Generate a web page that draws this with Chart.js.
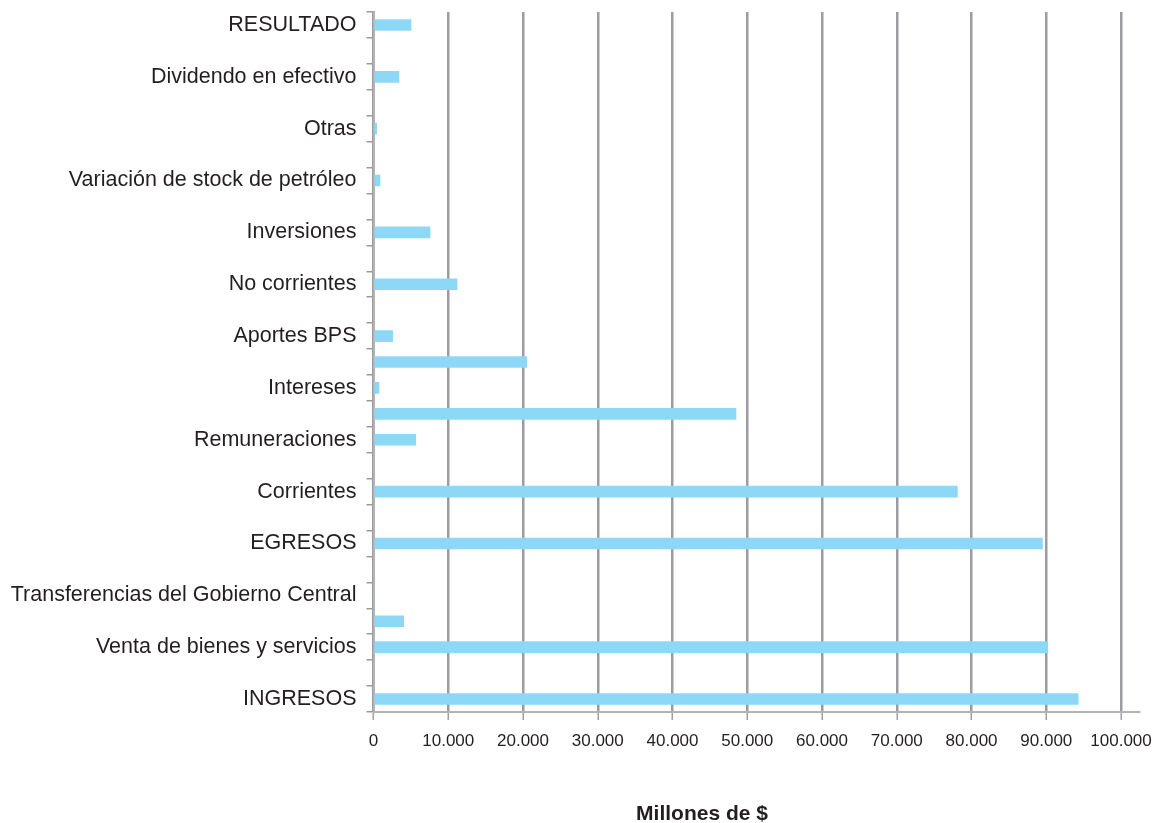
<!DOCTYPE html>
<html>
<head>
<meta charset="utf-8">
<script src="https://cdn.jsdelivr.net/npm/chart.js@4/dist/chart.umd.min.js"></script>
<style>
    html,body{margin:0;padding:0;background:#fff;}
    #wrap{width:1161px;height:823px;position:relative;}
</style>
</head>
<body>
<div id="wrap"><canvas id="flowChart"></canvas></div>
<script>
/* ==========================
   DATA (top to bottom)
========================== */

const categories = [
    "RESULTADO", "",
    "Dividendo en efectivo", "",
    "Otras", "",
    "Variación de stock de petróleo", "",
    "Inversiones", "",
    "No corrientes", "",
    "Aportes BPS", "",
    "Intereses", "",
    "Remuneraciones", "",
    "Corrientes", "",
    "EGRESOS", "",
    "Transferencias del Gobierno Central", "",
    "Venta de bienes y servicios", "",
    "INGRESOS"
];

const amounts = [
    5020, null,
    3410, null,
    430, null,
    870, null,
    7560, null,
    11180, null,
    2570, 20510,
    740, 48490,
    5650, null,
    78110, null,
    89490, null,
    0, 4040,
    90200, null,
    94270
];

const xTicks = [0,10000,20000,30000,40000,50000,60000,70000,80000,90000,100000];

const xTitle = "Millones de $";

/* ==========================
   HELPERS
========================== */

const FONT = "'Liberation Sans', Arial, sans-serif";
const INK = "#231f20";

function formatThousands(v){
    return String(v).replace(/\B(?=(\d{3})+(?!\d))/g, ".");
}

const axisTitlePlugin = {
    id:"axisTitle",
    afterDraw(chart){
        const ctx = chart.ctx;
        ctx.save();
        ctx.font = "bold 21px " + FONT;
        ctx.fillStyle = INK;
        ctx.textAlign = "center";
        ctx.textBaseline = "middle";
        ctx.fillText(xTitle, 702, 814);
        ctx.restore();
    }
};

/* ==========================
   CHART
========================== */

new Chart(document.getElementById("flowChart"),{

    type:"bar",

    data:{
        labels:categories,
        datasets:[{
            data:amounts,
            backgroundColor:"#8dd8f7",
            borderWidth:0,
            barThickness:11
        }]
    },

    options:{
        responsive:true,
        maintainAspectRatio:false,
        animation:false,
        indexAxis:"y",
        layout:{
            padding:{top:12,right:22,left:0,bottom:0}
        },
        plugins:{
            legend:{display:false},
            tooltip:{enabled:false}
        },
        scales:{
            x:{
                min:0,
                max:102400,
                afterBuildTicks(scale){
                    scale.ticks = xTicks.map(v => ({value:v}));
                },
                afterFit(scale){
                    scale.height = 111;
                    scale.paddingLeft = 0;
                    scale.paddingRight = 0;
                },
                grid:{
                    color:"#9c9ca0",
                    lineWidth:2.5,
                    tickLength:8,
                    tickColor:"#a0a0a0",
                    tickWidth:1.5
                },
                border:{color:"#b3b3b3",width:2},
                ticks:{
                    color:INK,
                    font:{family:FONT,size:17},
                    padding:11,
                    maxRotation:0,
                    callback:(v) => formatThousands(v)
                }
            },
            y:{
                afterFit(scale){
                    scale.width = 373.5;
                    scale.paddingTop = 0;
                    scale.paddingBottom = 0;
                },
                grid:{
                    offset:true,
                    drawOnChartArea:false,
                    tickLength:7,
                    color:"#9a9a9a",
                    lineWidth:1.5
                },
                border:{color:"#b3b3b3",width:2},
                ticks:{
                    autoSkip:false,
                    color:INK,
                    font:{family:FONT,size:21.5},
                    padding:10
                }
            }
        }
    },

    plugins:[axisTitlePlugin]

});
</script>
</body>
</html>
